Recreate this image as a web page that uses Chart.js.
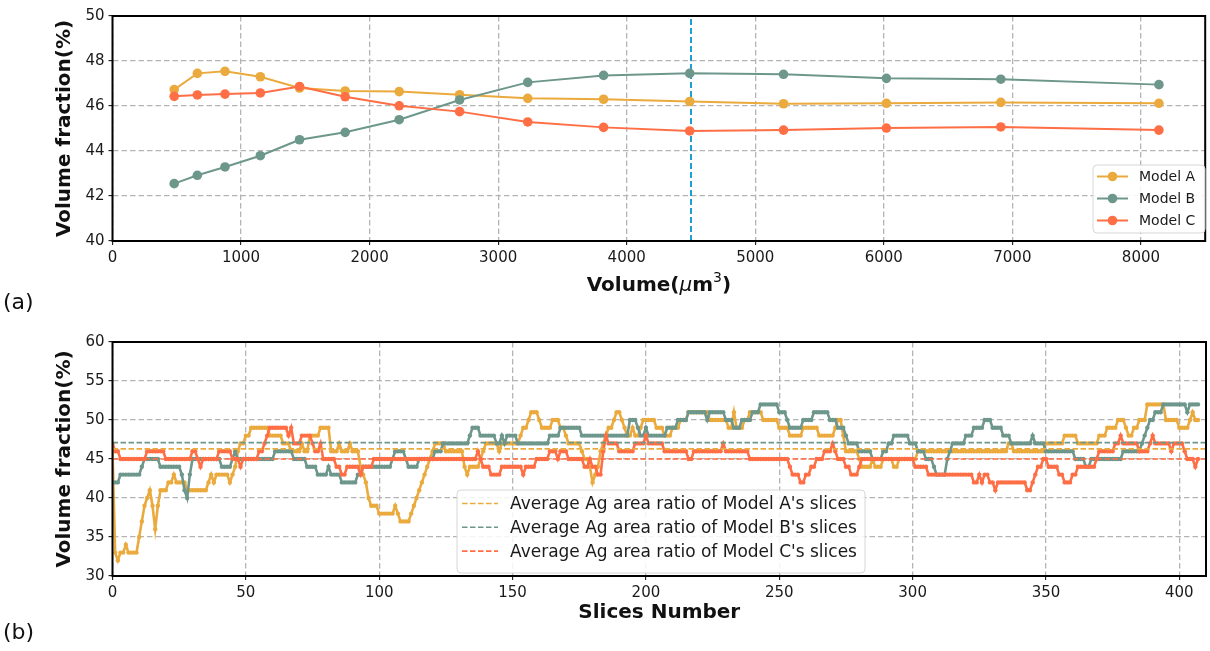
<!DOCTYPE html>
<html>
<head>
<meta charset="utf-8">
<script src="https://cdn.jsdelivr.net/npm/chart.js@4.4.0/dist/chart.umd.min.js"></script>
<style>
  body { margin: 0; background: #fff; width: 1210px; height: 651px; overflow: hidden; position: relative; font-family: "DejaVu Sans", sans-serif; }
  canvas { position: absolute; left: 0; }
  #volumeChart { top: 0; }
  #sliceChart { top: 320px; }
  .panel { position: absolute; left: 3px; font-size: 22px; color: #111; line-height: 24px; }
</style>
</head>
<body>
<canvas id="volumeChart" width="1210" height="300"></canvas>
<canvas id="sliceChart" width="1210" height="331"></canvas>
<div class="panel" style="top:290px">(a)</div>
<div class="panel" style="top:620px">(b)</div>
<script>
// (a) volume fraction vs sampled volume
const volumes = [480, 660, 875, 1150, 1455, 1810, 2230, 2700, 3230, 3820, 4490, 5220, 6020, 6910, 8140];
const modelA = [46.73, 47.45, 47.54, 47.30, 46.80, 46.67, 46.64, 46.50, 46.34, 46.30, 46.20, 46.10, 46.12, 46.16, 46.12];
const modelB = [42.55, 42.92, 43.29, 43.79, 44.50, 44.83, 45.39, 46.27, 47.05, 47.36, 47.45, 47.41, 47.23, 47.19, 46.95];
const modelC = [46.43, 46.49, 46.53, 46.58, 46.87, 46.41, 46.01, 45.75, 45.29, 45.05, 44.89, 44.93, 45.02, 45.07, 44.93];
const markedVolume = 4500;
const volumeTicks = [0, 1000, 2000, 3000, 4000, 5000, 6000, 7000, 8000];
const fractionTicksA = [40, 42, 44, 46, 48, 50];

// (b) Ag area ratio per slice, stored as [first slice, value] steps
const sliceCount = 408;
const sliceStepsA = [
  [0,46],[1,33],[2,32],[3,33],[5,34],[6,33],[10,35],[11,37],[12,39],[13,40],[14,41],[15,39],[16,36],[17,39],[18,41],
  [21,42],[23,43],[24,42],[28,41],[36,42],[37,43],[38,42],[39,43],[44,42],[45,43],[46,44],[47,46],[48,47],[50,48],
  [52,49],[59,48],[64,47],[67,46],[71,47],[72,46],[74,48],[78,49],[82,46],[85,47],[86,46],[89,47],[90,46],[93,44],
  [94,43],[95,42],[96,40],[97,39],[100,38],[106,39],[107,38],[108,37],[112,38],[113,39],[114,40],[115,41],[116,42],
  [117,43],[118,44],[119,45],[120,46],[121,47],[125,46],[132,44],[133,43],[134,44],[138,45],[139,46],[140,47],[145,46],
  [146,47],[153,48],[154,49],[156,50],[157,51],[160,50],[161,49],[165,50],[168,49],[170,48],[171,47],[176,46],[177,45],
  [179,44],[180,42],[181,43],[182,44],[183,46],[184,47],[185,48],[186,49],[188,50],[189,51],[191,50],[192,49],[193,48],
  [195,49],[196,48],[198,49],[199,50],[204,49],[207,48],[210,49],[213,50],[216,51],[224,50],[231,49],[233,51],[234,49],
  [237,50],[239,51],[244,50],[250,49],[254,48],[259,49],[265,48],[271,49],[272,50],[274,48],[275,46],[280,45],[281,44],
  [285,45],[286,44],[289,45],[293,44],[295,45],[302,46],[336,47],[338,46],[350,47],[357,48],[362,47],[370,48],[373,49],
  [377,50],[380,49],[381,48],[383,49],[385,50],[388,52],[395,50],[400,49],[404,50],[405,51],[406,50]
];
const sliceStepsB = [
  [0,42],[3,43],[11,44],[12,45],[18,44],[26,43],[27,41],[28,40],[29,43],[30,45],[41,44],[45,45],[46,46],[47,45],
  [61,46],[68,45],[73,44],[77,43],[81,44],[82,43],[86,42],[92,43],[94,44],[105,45],[106,46],[110,45],[111,44],[115,45],
  [121,46],[124,47],[134,48],[135,49],[138,48],[144,47],[146,48],[147,47],[148,48],[152,47],[164,48],[168,49],[176,48],
  [194,50],[197,49],[198,48],[200,49],[201,48],[208,49],[212,50],[216,51],[223,50],[224,51],[230,50],[233,49],[236,50],
  [240,51],[243,52],[250,51],[253,50],[254,49],[259,50],[263,51],[269,50],[272,49],[275,48],[276,47],[280,46],[285,45],
  [289,46],[291,47],[293,48],[299,47],[302,46],[305,45],[308,44],[309,43],[313,45],[314,46],[315,47],[320,48],[323,49],
  [327,50],[330,49],[334,48],[337,47],[345,48],[346,47],[350,46],[361,45],[365,44],[367,45],[379,46],[386,47],[387,48],
  [388,49],[389,50],[391,51],[394,52],[403,51],[404,52]
];
const sliceStepsC = [
  [0,47],[1,46],[3,45],[13,46],[20,45],[30,46],[32,45],[33,44],[34,45],[40,46],[45,45],[48,44],[49,45],[55,46],[57,47],
  [58,48],[59,49],[66,48],[67,49],[68,47],[71,48],[75,47],[76,46],[78,47],[79,45],[84,44],[86,43],[88,44],[93,43],
  [94,44],[98,45],[137,46],[138,45],[139,44],[142,43],[146,44],[154,43],[155,44],[159,45],[164,46],[167,45],[168,46],
  [171,45],[177,44],[179,45],[180,44],[182,43],[184,46],[185,48],[186,47],[190,46],[196,47],[200,48],[201,47],[207,46],
  [216,45],[218,46],[229,47],[230,46],[239,45],[254,44],[255,43],[258,42],[260,43],[262,44],[264,45],[267,46],[270,47],
  [271,46],[272,45],[275,44],[277,43],[280,44],[281,45],[301,44],[306,43],[323,42],[325,43],[326,42],[327,43],[329,42],
  [331,41],[332,42],[343,41],[345,42],[346,43],[347,44],[349,45],[351,44],[355,43],[357,42],[360,43],[362,44],[369,45],
  [370,46],[376,47],[378,48],[379,47],[385,46],[389,47],[390,48],[391,47],[397,46],[398,47],[402,46],[403,45],[406,44],
  [407,45]
];
const averageA = 46.3;
const averageB = 47.1;
const averageC = 45.0;
const sliceTicks = [0, 50, 100, 150, 200, 250, 300, 350, 400];
const fractionTicksB = [30, 35, 40, 45, 50, 55, 60];

const colA = '#ebaa3d';
const colB = '#6e978c';
const colC = '#ff6e45';
const colMark = '#1e9fd2';
const FONT = '"DejaVu Sans", sans-serif';

function expandSteps(steps) {
  const out = [];
  for (let s = 0; s < sliceCount; s++) {
    let v = steps[0][1];
    for (const [start, val] of steps) {
      if (start <= s) v = val;
    }
    out.push({ x: s, y: v });
  }
  return out;
}

function drawPieces(ctx, pieces, cx, cy) {
  let total = 0;
  pieces.forEach(p => { ctx.font = p.font; p.w = ctx.measureText(p.text).width; total += p.w; });
  let x = cx - total / 2;
  ctx.textAlign = 'left';
  pieces.forEach(p => { ctx.font = p.font; ctx.fillText(p.text, x, cy + (p.dy || 0)); x += p.w; });
}

function roundRect(ctx, x, y, w, h, r) {
  ctx.beginPath();
  ctx.moveTo(x + r, y);
  ctx.arcTo(x + w, y, x + w, y + h, r);
  ctx.arcTo(x + w, y + h, x, y + h, r);
  ctx.arcTo(x, y + h, x, y, r);
  ctx.arcTo(x, y, x + w, y, r);
  ctx.closePath();
}

// frame, axis titles and legend box
const panelDeco = {
  id: 'panelDeco',
  afterDraw(chart, args, opts) {
    const { ctx, chartArea: a } = chart;
    ctx.save();
    ctx.strokeStyle = '#000';
    ctx.lineWidth = 2;
    ctx.strokeRect(a.left, a.top, a.right - a.left, a.bottom - a.top);

    ctx.fillStyle = '#111';
    ctx.textBaseline = 'middle';
    drawPieces(ctx, opts.xTitle, (a.left + a.right) / 2, a.bottom + opts.xTitleGap);
    ctx.save();
    ctx.translate(65, (a.top + a.bottom) / 2);
    ctx.rotate(-Math.PI / 2);
    ctx.textAlign = 'center';
    ctx.font = 'bold 20px ' + FONT;
    ctx.fillText(opts.yTitle, 0, 0);
    ctx.restore();

    const lg = opts.legend;
    roundRect(ctx, lg.x, lg.y, lg.w, lg.h, 4);
    ctx.fillStyle = 'rgba(255,255,255,0.85)';
    ctx.fill();
    ctx.strokeStyle = '#d6d6d6';
    ctx.lineWidth = 1;
    ctx.stroke();
    lg.items.forEach((it, i) => {
      const y = lg.rowY + i * lg.rowGap;
      ctx.strokeStyle = it.color;
      ctx.lineWidth = it.width;
      ctx.setLineDash(it.dash || []);
      ctx.beginPath();
      ctx.moveTo(lg.lineX0, y);
      ctx.lineTo(lg.lineX1, y);
      ctx.stroke();
      ctx.setLineDash([]);
      if (it.marker) {
        ctx.fillStyle = it.color;
        ctx.beginPath();
        ctx.arc((lg.lineX0 + lg.lineX1) / 2, y, it.marker, 0, Math.PI * 2);
        ctx.fill();
      }
      ctx.fillStyle = '#1a1a1a';
      ctx.font = lg.font;
      ctx.textAlign = 'left';
      ctx.fillText(it.label, lg.textX, y + 1);
    });
    ctx.restore();
  }
};

function axis(min, max, ticks, fit) {
  return {
    type: 'linear',
    min: min,
    max: max,
    afterBuildTicks: s => { s.ticks = ticks.map(v => ({ value: v })); },
    afterFit: fit,
    ticks: {
      color: '#1a1a1a', font: { family: FONT, size: 15 }, padding: 4, maxRotation: 0, autoSkip: false,
      callback: v => String(v)
    },
    grid: { color: '#b4b4b4', lineWidth: 1.3, tickColor: '#000', tickLength: 4, tickWidth: 1, tickBorderDash: [] },
    border: { display: false, dash: [5.5, 3] }
  };
}

const bold20 = 'bold 20px ' + FONT;

new Chart(document.getElementById('volumeChart'), {
  type: 'line',
  data: {
    datasets: [
      { label: 'Model A', data: volumes.map((v, i) => ({ x: v, y: modelA[i] })), borderColor: colA, backgroundColor: colA, borderWidth: 2, pointRadius: 4.8, pointBorderWidth: 0, order: 3 },
      { label: 'Model B', data: volumes.map((v, i) => ({ x: v, y: modelB[i] })), borderColor: colB, backgroundColor: colB, borderWidth: 2, pointRadius: 4.8, pointBorderWidth: 0, order: 2 },
      { label: 'Model C', data: volumes.map((v, i) => ({ x: v, y: modelC[i] })), borderColor: colC, backgroundColor: colC, borderWidth: 2, pointRadius: 4.8, pointBorderWidth: 0, order: 1 },
      { label: 'mark', data: [{ x: markedVolume, y: 40 }, { x: markedVolume, y: 50 }], borderColor: colMark, borderWidth: 2, borderDash: [6, 3], pointRadius: 0, order: 4 }
    ]
  },
  options: {
    responsive: false,
    animation: false,
    devicePixelRatio: 1,
    layout: { padding: { top: 16, right: 2, left: 0, bottom: 0 } },
    plugins: {
      legend: { display: false },
      tooltip: { enabled: false },
      panelDeco: {
        xTitle: [
          { text: 'Volume(', font: bold20 },
          { text: 'μ', font: 'italic 20px ' + FONT },
          { text: 'm', font: bold20 },
          { text: '3', font: '14px ' + FONT, dy: -8 },
          { text: ')', font: bold20 }
        ],
        xTitleGap: 45,
        yTitle: 'Volume fraction(%)',
        legend: {
          x: 1093, y: 165, w: 112, h: 68, rowY: 176.5, rowGap: 22, lineX0: 1097, lineX1: 1128, textX: 1139,
          font: '14px ' + FONT,
          items: [
            { label: 'Model A', color: colA, width: 2, marker: 4.8 },
            { label: 'Model B', color: colB, width: 2, marker: 4.8 },
            { label: 'Model C', color: colC, width: 2, marker: 4.8 }
          ]
        }
      }
    },
    scales: {
      x: axis(0, 8500, volumeTicks, s => { s.height = 59; }),
      y: axis(40, 50, fractionTicksA, s => { s.width = 112.5; })
    }
  },
  plugins: [panelDeco]
});

const flat = v => [{ x: 0, y: v }, { x: 410, y: v }];

new Chart(document.getElementById('sliceChart'), {
  type: 'line',
  data: {
    datasets: [
      { label: 'A', data: expandSteps(sliceStepsA), borderColor: colA, backgroundColor: colA, borderWidth: 2.6, pointRadius: 2.2, pointBorderWidth: 0, order: 6 },
      { label: 'B', data: expandSteps(sliceStepsB), borderColor: colB, backgroundColor: colB, borderWidth: 2.6, pointRadius: 2.2, pointBorderWidth: 0, order: 5 },
      { label: 'C', data: expandSteps(sliceStepsC), borderColor: colC, backgroundColor: colC, borderWidth: 2.6, pointRadius: 2.2, pointBorderWidth: 0, order: 4 },
      { label: 'avgA', data: flat(averageA), borderColor: colA, borderWidth: 1.6, borderDash: [5.5, 2.5], pointRadius: 0, order: 3 },
      { label: 'avgB', data: flat(averageB), borderColor: colB, borderWidth: 1.6, borderDash: [5.5, 2.5], pointRadius: 0, order: 2 },
      { label: 'avgC', data: flat(averageC), borderColor: colC, borderWidth: 1.6, borderDash: [5.5, 2.5], pointRadius: 0, order: 1 }
    ]
  },
  options: {
    responsive: false,
    animation: false,
    devicePixelRatio: 1,
    layout: { padding: { top: 22, right: 1.5, left: 0, bottom: 0 } },
    plugins: {
      legend: { display: false },
      tooltip: { enabled: false },
      panelDeco: {
        xTitle: [{ text: 'Slices Number', font: bold20 }],
        xTitleGap: 37,
        yTitle: 'Volume fraction(%)',
        legend: {
          x: 457, y: 170, w: 408, h: 83, rowY: 183.5, rowGap: 23.8, lineX0: 462, lineX1: 498, textX: 510,
          font: '17px ' + FONT,
          items: [
            { label: "Average Ag area ratio of Model A's slices", color: colA, width: 1.6, dash: [5.5, 2.5] },
            { label: "Average Ag area ratio of Model B's slices", color: colB, width: 1.6, dash: [5.5, 2.5] },
            { label: "Average Ag area ratio of Model C's slices", color: colC, width: 1.6, dash: [5.5, 2.5] }
          ]
        }
      }
    },
    scales: {
      x: axis(0, 410, sliceTicks, s => { s.height = 75; }),
      y: axis(30, 60, fractionTicksB, s => { s.width = 112.5; })
    }
  },
  plugins: [panelDeco]
});
</script>
</body>
</html>
